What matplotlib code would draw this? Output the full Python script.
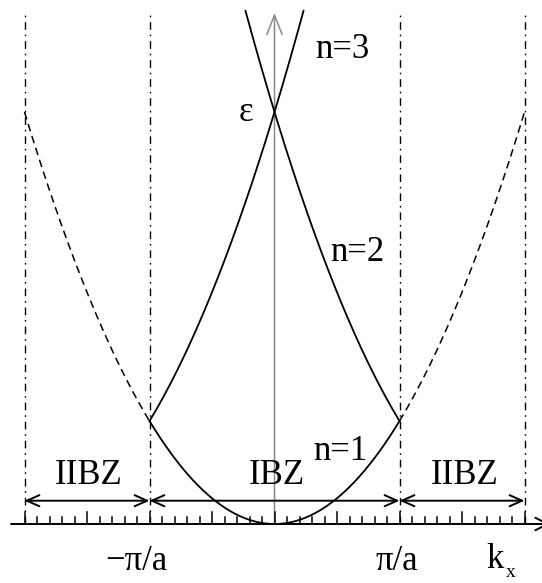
import numpy as np
import matplotlib
matplotlib.use("Agg")
import matplotlib.pyplot as plt

plt.rcParams['lines.scale_dashes'] = False

# ---- data (k in units of pi/a, energy in units of (hbar^2/2m)(pi/a)^2) ----
zone_bounds = [-2, -1, 1, 2]            # zone boundaries (dash-dot lines)
band1_range = [-1, 1]                  # n=1 solid, G = 0
extended_left = [-2, -1]               # dashed extended-zone parts, G = 0
extended_right = [1, 2]
band_shifts = [2, -2]                  # reciprocal lattice vectors (units of pi/a)
band_upper_k = 0.232                   # how far the n=2/n=3 curves run past k=0 (top of figure)
zone_labels = ["IIBZ", "IBZ", "IIBZ"]
zone_label_k = [-1.49, 0.02, 1.524]
band_labels = ["n=1", "n=2", "n=3"]
band_label_pos = [(0.524, 0.70), (0.66, 2.64), (0.54, 4.61)]
tick_labels = ["\u2212\u03c0/a", "\u03c0/a"]
tick_label_k = [-1.108, 0.98]

def disp(k, G=0.0):
    return (k + G) ** 2

# ---- figure/pixel geometry ----
W, H = 542, 583
x0px, ux = 274.5, 125.0
y0px, uy = 524.0, 103.0
fig = plt.figure(figsize=(W / 100, H / 100), dpi=100)
ax = fig.add_axes([0, 0, 1, 1])
ax.set_xlim((0 - x0px) / ux, (W - x0px) / ux)
ax.set_ylim((y0px - H) / uy, (y0px - 0) / uy)
ax.axis('off')

def px2k(px):
    return (px - x0px) / ux

def py2e(py):
    return (y0px - py) / uy

top_e = py2e(13)
serif = ['Liberation Serif', 'DejaVu Serif']
fs = 25

# zone boundary dash-dot lines
for kb in zone_bounds:
    ax.plot([kb, kb], [0, top_e], color='black', lw=1.0,
            dashes=(5.5, 3.5, 1.2, 3.5), zorder=1)

# vertical energy axis (gray) with open arrowhead
ax.annotate('', xy=(0, top_e), xytext=(0, 0),
            arrowprops=dict(arrowstyle='->,head_length=1.4,head_width=0.55',
                            color='#8a8a8a', lw=1.1, shrinkA=0, shrinkB=0),
            zorder=2)

# horizontal k axis
ax.annotate('', xy=(px2k(W + 8), 0), xytext=(px2k(11), 0),
            arrowprops=dict(arrowstyle='->,head_length=0.9,head_width=0.45',
                            color='black', lw=1.4, shrinkA=0, shrinkB=0),
            annotation_clip=False, zorder=3)

# ticks
tk = np.round(np.arange(-2.0, 2.0001, 0.1), 2)
for t in tk:
    tall = abs(t * 2 - round(t * 2)) < 1e-6
    h = 12 if tall else 7
    ax.plot([t, t], [0, h / uy], color='black', lw=1.1, zorder=3)

# zone double arrows
arrow_e = py2e(500.7)
for a, b in zip(zone_bounds[:-1], zone_bounds[1:]):
    ax.annotate('', xy=(b, arrow_e), xytext=(a, arrow_e),
                arrowprops=dict(arrowstyle='<->,head_length=0.9,head_width=0.4',
                                color='black', lw=1.4, shrinkA=0, shrinkB=0),
                zorder=3)

# bands
k1 = np.linspace(band1_range[0], band1_range[1], 400)
ax.plot(k1, disp(k1), color='black', lw=1.3, zorder=4)
for rng in (extended_left, extended_right):
    kk = np.linspace(rng[0], rng[1], 300)
    ax.plot(kk, disp(kk), color='black', lw=1.1, dashes=(5.5, 3.5), zorder=4)
# n=2 / n=3 : (k+2)^2 from -1 up past 0, and (k-2)^2 from +1 up past 0
kA = np.linspace(-1, band_upper_k, 300)
ax.plot(kA, disp(kA, band_shifts[0]), color='black', lw=1.3, zorder=4)
kB = np.linspace(-band_upper_k, 1, 300)
ax.plot(kB, disp(kB, band_shifts[1]), color='black', lw=1.3, zorder=4)

# labels
for lab, kx in zip(zone_labels, zone_label_k):
    ax.text(kx, py2e(475), lab, ha='center', va='center', fontsize=fs, family=serif)
for lab, (kx, ey) in zip(band_labels, band_label_pos):
    ax.text(kx, ey, lab, ha='center', va='center', fontsize=fs, family=serif)
ax.text(px2k(246), py2e(112), "\u03b5", ha='center', va='center', fontsize=fs, family=serif)
for lab, kx in zip(tick_labels, tick_label_k):
    ax.text(kx, py2e(562), lab, ha='center', va='center', fontsize=fs, family=serif)
ax.text(px2k(495), py2e(559), "k", ha='center', va='center', fontsize=fs, family=serif)
ax.text(px2k(511), py2e(577), "x", ha='center', va='baseline', fontsize=14, family=serif)

fig.savefig('out.png', dpi=100)
